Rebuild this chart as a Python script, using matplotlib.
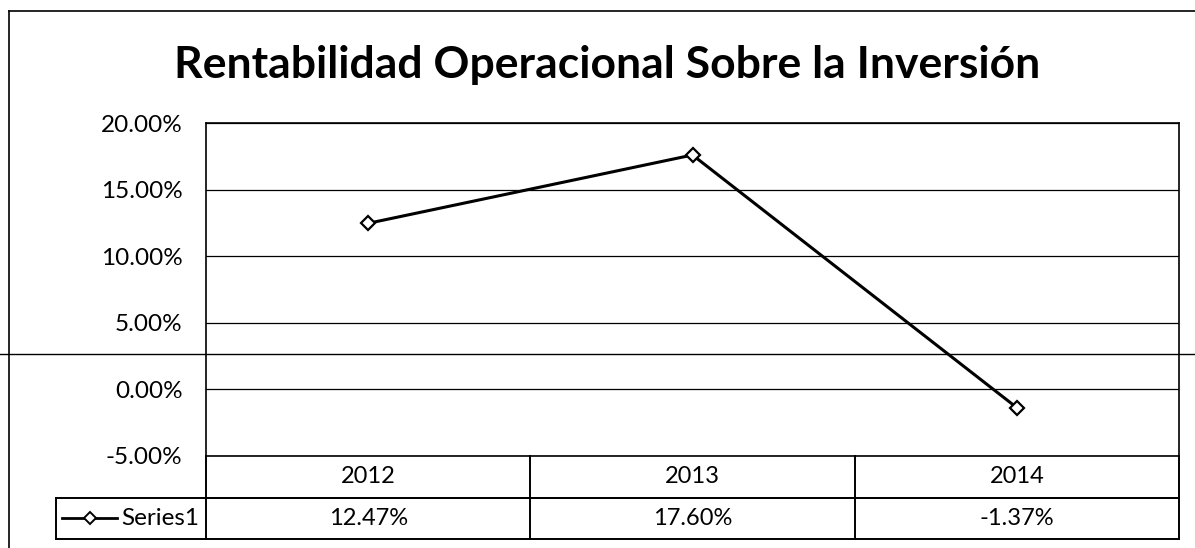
import matplotlib.pyplot as plt
from matplotlib.lines import Line2D
from matplotlib.ticker import FuncFormatter

# datos del grafico
anios = ['2012', '2013', '2014']
rentabilidad = [12.47, 17.60, -1.37]
serie = 'Series1'
titulo = 'Rentabilidad Operacional Sobre la Inversión'
y_ticks = [-5, 0, 5, 10, 15, 20]

plt.rcParams['font.family'] = ['Lato', 'DejaVu Sans']

fig = plt.figure(figsize=(11.95, 5.48), dpi=100)
ax = fig.add_axes([0.1724, 0.1679, 0.8142, 0.6076])

x = list(range(len(anios)))
ax.plot(x, rentabilidad, color='black', linewidth=2.2, marker='D', markersize=7.5,
        markerfacecolor='white', markeredgecolor='black', markeredgewidth=1.6, zorder=3)

ax.set_xlim(-0.5, len(anios) - 0.5)
ax.set_ylim(y_ticks[0], y_ticks[-1])
ax.set_yticks(y_ticks)
ax.yaxis.set_major_formatter(FuncFormatter(lambda v, p: f'{v:.2f}%'))
ax.tick_params(axis='y', length=0, pad=17, labelsize=17.5)
ax.set_xticks([])
ax.grid(axis='y', color='black', linewidth=0.9)
for s in ax.spines.values():
    s.set_color('black')
    s.set_linewidth(1.2)

fig.text(0.508, 0.858, titulo, ha='center', va='baseline', fontsize=32, fontweight='bold')

# tabla de datos bajo el grafico
tr = ax.get_xaxis_transform()
fila1 = -0.126
fila2 = -0.249
izq_leyenda = -0.154
lw = 1.4
for i in range(len(anios) + 1):
    ax.plot([i - 0.5, i - 0.5], [0, fila2], transform=tr, color='black', lw=lw, clip_on=False)
ax.plot([-0.5, len(anios) - 0.5], [fila1, fila1], transform=tr, color='black', lw=lw, clip_on=False)
ax.plot([izq_leyenda, 1], [fila1, fila1], transform=ax.transAxes, color='black', lw=lw, clip_on=False)
ax.plot([izq_leyenda, 1], [fila2, fila2], transform=ax.transAxes, color='black', lw=lw, clip_on=False)
ax.plot([izq_leyenda, izq_leyenda], [fila1, fila2], transform=ax.transAxes, color='black', lw=lw, clip_on=False)

for i, (a, v) in enumerate(zip(anios, rentabilidad)):
    ax.text(i, fila1 / 2, a, transform=tr, ha='center', va='center', fontsize=17)
    ax.text(i, (fila1 + fila2) / 2, f'{v:.2f}%', transform=tr, ha='center', va='center', fontsize=17)

ym = (fila1 + fila2) / 2
ax.plot([-0.148, -0.091], [ym, ym], transform=ax.transAxes, color='black', lw=2.0, clip_on=False)
ax.plot([-0.1195], [ym], transform=ax.transAxes, marker='D', markersize=6, color='black',
        markerfacecolor='white', markeredgewidth=1.4, clip_on=False)
ax.text(-0.087, ym, serie, transform=ax.transAxes, ha='left', va='center', fontsize=17.5)

# borde del grafico y linea del escaneo
fig.add_artist(Line2D([0.0075, 1], [0.980, 0.980], color='black', lw=1.2))
fig.add_artist(Line2D([0.0075, 0.0075], [0, 0.980], color='black', lw=1.2))
fig.add_artist(Line2D([0, 1], [0.354, 0.354], color='black', lw=1.0))

fig.savefig('out.png', dpi=100)
